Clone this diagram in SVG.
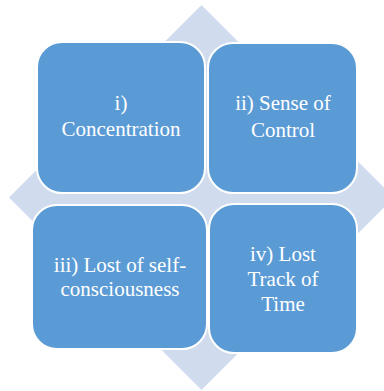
<svg xmlns="http://www.w3.org/2000/svg" width="384" height="391" viewBox="0 0 384 391">
  <style>
    .bg { fill: #d0dcee; }
    .box { fill: #5b9bd5; stroke: #ffffff; stroke-width: 2; }
    .lbl { fill: #ffffff; font-family: "Liberation Serif", "DejaVu Serif", serif; font-size: 21px; text-anchor: middle; }
  </style>
  <rect width="384" height="391" fill="#ffffff"/>
  <!-- background diamond arrow -->
  <g id="connectors">
    <polygon class="bg" points="201.5,5 394,197.5 201.5,390 9,197.5"/>
  </g>
  <g id="node1">
    <rect class="box" x="37" y="42" width="168" height="151" rx="25" ry="25"/>
    <text class="lbl" x="121" y="110">i)</text>
    <text class="lbl" x="121" y="136">Concentration</text>
  </g>
  <g id="node2">
    <rect class="box" x="208" y="43" width="149" height="150" rx="25" ry="25"/>
    <text class="lbl" x="283" y="110">ii) Sense of</text>
    <text class="lbl" x="283" y="137">Control</text>
  </g>
  <g id="node3">
    <rect class="box" x="32" y="205" width="175" height="144" rx="25" ry="25"/>
    <text class="lbl" x="120" y="272">iii) Lost of self-</text>
    <text class="lbl" x="120" y="296">consciousness</text>
  </g>
  <g id="node4">
    <rect class="box" x="209" y="204" width="148" height="149" rx="25" ry="25"/>
    <text class="lbl" x="283" y="261">iv) Lost</text>
    <text class="lbl" x="283" y="286">Track of</text>
    <text class="lbl" x="283" y="311">Time</text>
  </g>
</svg>
